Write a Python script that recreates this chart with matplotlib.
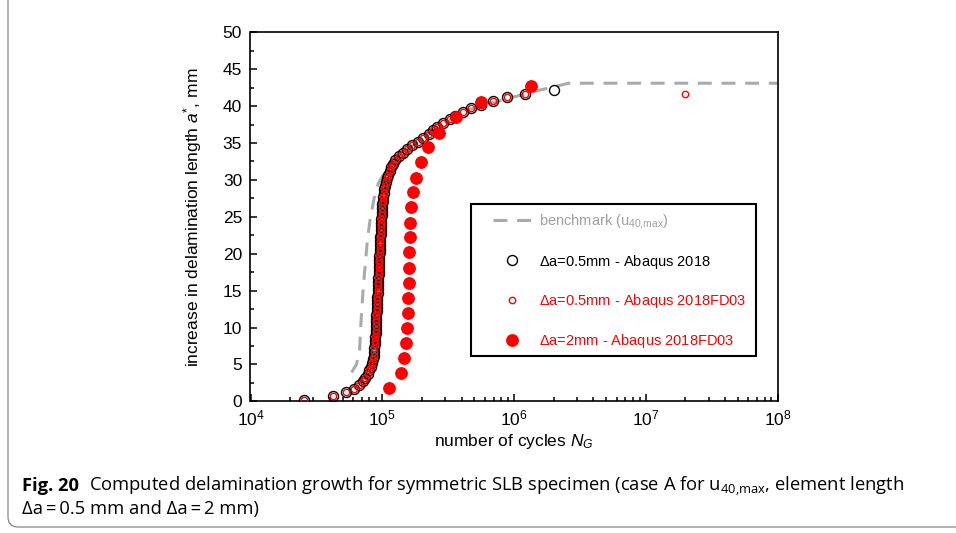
import matplotlib
matplotlib.use('Agg')
from matplotlib import pyplot as plt
from matplotlib.patches import Rectangle, FancyBboxPatch
from matplotlib.transforms import IdentityTransform

# element length 0.5 mm, Abaqus 2018 and Abaqus 2018FD03 (same points, drawn on top of each other)
a_05 = [0.2, 0.7, 1.2, 1.7, 2.2, 2.7, 3.2, 3.7, 4.2, 4.7,
        5.2, 5.7, 6.2, 6.7, 7.2, 7.7, 8.2, 8.7, 9.2, 9.7,
        10.2, 10.7, 11.2, 11.7, 12.2, 12.7, 13.2, 13.7, 14.2, 14.7,
        15.2, 15.7, 16.2, 16.7, 17.2, 17.7, 18.2, 18.7, 19.2, 19.7,
        20.2, 20.7, 21.2, 21.7, 22.2, 22.7, 23.2, 23.7, 24.2, 24.7,
        25.2, 25.7, 26.2, 26.7, 27.2, 27.7, 28.2, 28.7, 29.2, 29.7,
        30.2, 30.7, 31.2, 31.7, 32.2, 32.7, 33.2, 33.7, 34.2, 34.7,
        35.2, 35.7, 36.2, 36.7, 37.2, 37.7, 38.2, 38.7, 39.2, 39.7,
        40.2, 40.7, 41.2, 41.7]
N_05 = [25500, 42000, 53000, 61500, 67000, 71500, 74500, 77500, 80000, 82000,
        83700, 85000, 86000, 86700, 87200, 87700, 88100, 88500, 88900, 89200,
        89500, 89800, 90100, 90400, 90700, 91000, 91300, 91600, 91900, 92200,
        92500, 92800, 93100, 93400, 93800, 94100, 94400, 94700, 95000, 95300,
        95600, 95900, 96200, 96500, 96800, 97100, 97400, 97700, 98000, 98400,
        98800, 99300, 99800, 100400, 101100, 101900, 102800, 103900, 105200, 106800,
        108700, 111000, 113700, 117000, 121000, 126000, 133000, 143000, 155000, 169000,
        187000, 205000, 226000, 243000, 262000, 291000, 324000, 357000, 409000, 472000,
        562000, 690000, 891000, 1210000]

# last point of each 0.5 mm run
a_2018_end = [42.2]
N_2018_end = [2.0e6]
a_fd03_end = [41.6]
N_fd03_end = [2.0e7]

# element length 2 mm, Abaqus 2018FD03
a_2 = [1.8, 3.8, 5.8, 7.9, 9.9, 11.9, 14.0, 16.0, 18.0, 20.2, 22.2,
       24.2, 26.3, 28.3, 30.3, 32.4, 34.4, 36.4, 38.5, 40.6, 42.7]
N_2 = [112700, 139000, 146500, 151700, 154300, 157000, 157000, 159700, 159700,
       161000, 162500, 162500, 165400, 171300, 180700, 197300, 222900, 270000,
       363000, 562000, 1349000]

# benchmark (u40,max)
a_bench = [3.9, 5.1, 7.0, 11.0, 15.0, 18.2, 22.0, 24.5, 27.5, 29.5, 31.1, 32.9,
           34.7, 36.3, 37.9, 39.6, 41.0, 41.9, 43.1, 43.1]
N_bench = [58600, 64000, 67300, 69100, 71500, 74000, 77300, 80700, 86700, 93300,
           105000, 128900, 171000, 230000, 311000, 472000, 891000, 1360000,
           2600000, 1.0e8]

x_ticks = [1e4, 1e5, 1e6, 1e7, 1e8]
y_ticks = [0, 5, 10, 15, 20, 25, 30, 35, 40, 45, 50]

plt.rcParams['font.family'] = ['Liberation Sans', 'DejaVu Sans']
plt.rcParams['mathtext.fontset'] = 'custom'
plt.rcParams['mathtext.rm'] = 'Liberation Sans'
plt.rcParams['mathtext.it'] = 'Liberation Sans:italic'
plt.rcParams['mathtext.bf'] = 'Liberation Sans:bold'
plt.rcParams['lines.scale_dashes'] = False

fig = plt.figure(figsize=(9.56, 5.33), dpi=100)
ax = fig.add_axes([250.5 / 956, 1 - 401.3 / 533, 527 / 956, 369 / 533])

gray = '#aaaaaa'
red = '#ff0000'

ax.plot(N_bench, a_bench, color=gray, lw=2.2, dashes=(10, 7), zorder=2,
        label=r'benchmark (u$_{\mathregular{40{,}max}}$)')
ax.plot(N_05 + N_2018_end, a_05 + a_2018_end, 'o', ms=7.2, mfc='none', mec='black',
        mew=1.0, zorder=3, label=r'$\Delta$a=0.5mm - Abaqus 2018')
ax.plot(N_05 + N_fd03_end, a_05 + a_fd03_end, 'o', ms=4.6, mfc='none', mec=red,
        mew=1.0, zorder=4, label=r'$\Delta$a=0.5mm - Abaqus 2018FD03')
ax.plot(N_2, a_2, 'o', ms=8.2, color=red, mec=red, zorder=5,
        label=r'$\Delta$a=2mm - Abaqus 2018FD03')

ax.set_xscale('log')
ax.set_xlim(1e4, 1e8)
ax.set_ylim(0, 50)
ax.set_xticks(x_ticks)
ax.set_yticks(y_ticks)
ax.set_yticks([2.5 + 5 * i for i in range(10)], minor=True)
ax.tick_params(which='both', direction='in', top=False, right=False,
               labelsize=12.5, width=1.1)
ax.tick_params(which='major', length=5)
ax.tick_params(which='minor', length=3)
ax.tick_params(axis='x', pad=5)
ax.tick_params(axis='y', pad=6)
for sp in ax.spines.values():
    sp.set_linewidth(1.2)

ax.set_xlabel(r'number of cycles $N_G$', fontsize=12.5)
ax.set_ylabel(r'increase in delamination length $a^{*}$, mm', fontsize=12.5)
ax.xaxis.set_label_coords(0.5, -0.083)
ax.yaxis.set_label_coords(-0.088, 0.5)

# legend frame drawn separately
ax.add_patch(Rectangle((0.4184, 0.1228), 0.5406, 0.4119, transform=ax.transAxes,
                       fill=False, ec='black', lw=1.5, zorder=6))
leg = ax.legend(loc='upper left', bbox_to_anchor=(0.4602, 0.514), borderaxespad=0,
                borderpad=0, frameon=False, fontsize=10.5, handlelength=2.67,
                handletextpad=0.48, labelspacing=1.5, numpoints=1,
                labelcolor=['#a0a0a0', 'black', red, red])
leg.set_zorder(7)

# caption
fig.canvas.draw()
t1 = fig.text(22 / 956, 1 - 491 / 533, 'Fig. 20', family='Open Sans', fontweight='bold',
              fontsize=13.2, va='baseline')
bb = t1.get_window_extent()
fig.text((bb.x1 + 10) / 956, 1 - 491 / 533,
         r'Computed delamination growth for symmetric SLB specimen (case A for '
         r'u$_{\mathregular{40{,}max}}$, element length',
         family='Open Sans', fontsize=13.2, va='baseline')
fig.text(22 / 956, 1 - 514 / 533, '\u0394a\u2009=\u20090.5 mm and \u0394a\u2009=\u20092 mm)',
         family='Open Sans', fontsize=13.2, va='baseline')

# rounded frame of the figure panel
fig.patches.append(FancyBboxPatch((8, 6), 1200, 700, boxstyle='round,pad=0,rounding_size=10',
                                  transform=IdentityTransform(), fill=False, ec='#777777',
                                  lw=0.8))

fig.savefig('out.png', dpi=100)
